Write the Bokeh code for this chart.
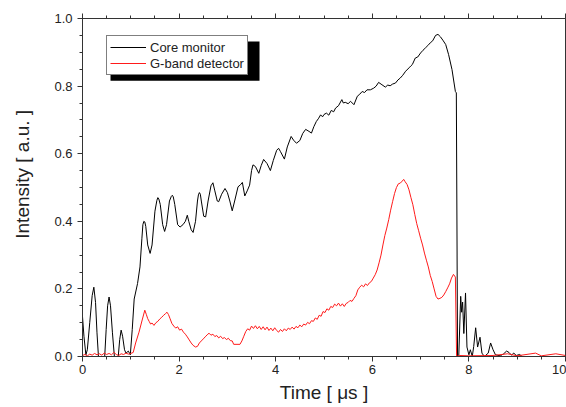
from bokeh.plotting import figure
from bokeh.models import (Range1d, LinearAxis, SingleIntervalTicker, PrintfTickFormatter,
                          Legend, LegendItem, BoxAnnotation)
from bokeh.embed import file_html
from bokeh.resources import INLINE

# ---- data ----
core_t = [0.00, 0.03, 0.07, 0.10, 0.15, 0.20, 0.235, 0.27, 0.30, 0.33, 0.46, 0.49, 0.52, 0.55, 0.58,
          0.62, 0.66, 0.74, 0.77, 0.80, 0.83, 0.87, 0.90, 0.95, 0.99, 1.03, 1.07, 1.14, 1.19, 1.23,
          1.25, 1.27, 1.29, 1.31, 1.35, 1.40, 1.44, 1.50, 1.54, 1.56, 1.58, 1.61, 1.66, 1.70, 1.74,
          1.80, 1.84, 1.86, 1.88, 1.91, 1.97,
          2.02, 2.08, 2.13, 2.17, 2.20, 2.25, 2.29, 2.34, 2.38, 2.40, 2.42, 2.44, 2.46, 2.51, 2.55, 2.60,
          2.66, 2.70, 2.74, 2.79, 2.82, 2.88, 2.95, 3.00, 3.05, 3.10, 3.15, 3.22, 3.27, 3.31, 3.36, 3.41,
          3.46, 3.50, 3.53, 3.58, 3.65, 3.70, 3.75, 3.82, 3.89, 3.95, 4.02, 4.06, 4.10, 4.18, 4.24,
          4.32, 4.37, 4.43, 4.50, 4.56, 4.62, 4.69, 4.74, 4.79, 4.84, 4.89, 4.93, 4.97, 5.00, 5.05, 5.10,
          5.15, 5.20, 5.24, 5.30, 5.37, 5.40, 5.44, 5.50, 5.55, 5.62, 5.69, 5.74, 5.79, 5.84, 5.89, 5.96,
          6.03, 6.08, 6.13, 6.20, 6.27, 6.32, 6.37, 6.42, 6.48, 6.53, 6.58, 6.63, 6.69, 6.76, 6.80, 6.83,
          6.89, 6.94, 7.00, 7.05, 7.10, 7.15, 7.20, 7.25, 7.31, 7.36, 7.41, 7.46, 7.52, 7.58,
          7.65, 7.72, 7.74, 7.765, 7.79, 7.83, 7.85, 7.87, 7.895, 7.93, 7.96, 8.00, 8.03, 8.07, 8.10,
          8.14, 8.18, 8.23, 8.27, 8.32, 8.40, 8.45, 8.50, 8.55, 8.65, 8.72, 8.78, 8.83, 8.88, 8.93,
          8.98, 9.05, 9.10, 10.0]
core_v = [0.118, 0.06, 0.005, 0.02, 0.10, 0.18, 0.205, 0.16, 0.07, 0.0, 0.0, 0.08, 0.15, 0.176, 0.15,
          0.07, 0.0, 0.0, 0.05, 0.078, 0.06, 0.02, 0.01, 0.016, 0.005, 0.08, 0.17, 0.216, 0.265, 0.35,
          0.39, 0.40, 0.398, 0.385, 0.33, 0.305, 0.33, 0.43, 0.462, 0.47, 0.466, 0.45, 0.39, 0.37, 0.39,
          0.46, 0.474, 0.477, 0.472, 0.45, 0.39,
          0.383, 0.39, 0.40, 0.418, 0.40, 0.375, 0.367, 0.40, 0.46, 0.478, 0.485, 0.48, 0.46, 0.415, 0.413, 0.46,
          0.505, 0.514, 0.49, 0.46, 0.458, 0.48, 0.497, 0.485, 0.46, 0.431, 0.46, 0.502, 0.508, 0.515, 0.475, 0.49,
          0.507, 0.55, 0.567, 0.562, 0.542, 0.565, 0.583, 0.571, 0.55, 0.58, 0.61, 0.616, 0.606, 0.584, 0.62,
          0.651, 0.64, 0.631, 0.639, 0.66, 0.672, 0.666, 0.661, 0.68, 0.695, 0.705, 0.715, 0.709, 0.716, 0.72, 0.714,
          0.728, 0.724, 0.735, 0.742, 0.760, 0.750, 0.752, 0.748, 0.755, 0.745, 0.770, 0.776, 0.784, 0.781, 0.789, 0.789,
          0.794, 0.800, 0.811, 0.804, 0.797, 0.803, 0.801, 0.806, 0.809, 0.818, 0.824, 0.832, 0.844, 0.854, 0.860, 0.864,
          0.883, 0.886, 0.898, 0.906, 0.913, 0.920, 0.928, 0.934, 0.950, 0.953, 0.946, 0.936, 0.923, 0.893,
          0.849, 0.784, 0.78, 0.0, 0.0, 0.178, 0.131, 0.161, 0.068, 0.188, 0.028, 0.005, 0.02, 0.0, 0.03,
          0.085, 0.028, 0.057, 0.01, 0.0, 0.01, 0.04, 0.02, 0.005, 0.002, 0.008, 0.016, 0.012, 0.004, 0.01,
          0.003, 0.006, 0.0, 0.0]

gband_t = [0.0, 0.05, 0.1, 0.15, 0.2, 0.25, 0.3, 0.35, 0.4, 0.45, 0.5, 0.55, 0.6, 0.65, 0.7, 0.75, 0.8,
           0.85, 0.9, 0.95, 1.0, 1.05, 1.10, 1.17, 1.23,
           1.29, 1.32, 1.35, 1.38, 1.41, 1.44, 1.48, 1.52, 1.56, 1.60, 1.64, 1.68, 1.72, 1.75, 1.78, 1.81,
           1.85, 1.89, 1.93, 1.97, 2.01, 2.05, 2.09, 2.13, 2.17, 2.21, 2.25, 2.29,
           2.34, 2.38, 2.42, 2.46, 2.50, 2.54, 2.58, 2.62, 2.66, 2.70, 2.74, 2.78, 2.82, 2.86, 2.90, 2.94,
           2.98, 3.02, 3.06, 3.10, 3.13, 3.26, 3.30,
           3.34, 3.38, 3.42, 3.46, 3.50, 3.54, 3.58, 3.62, 3.66, 3.70, 3.74, 3.78, 3.82, 3.86, 3.90, 3.94,
           3.98, 4.02, 4.06, 4.10, 4.14, 4.18, 4.22, 4.26, 4.30, 4.34, 4.38, 4.42, 4.46, 4.50, 4.54, 4.58,
           4.62, 4.66, 4.70, 4.74, 4.78, 4.82, 4.86, 4.90, 4.94, 4.98, 5.02, 5.06, 5.10, 5.14, 5.18, 5.22,
           5.26, 5.30, 5.34, 5.38, 5.42, 5.46, 5.50, 5.54, 5.58, 5.62, 5.66, 5.70, 5.74, 5.78, 5.82, 5.86,
           5.90, 5.94, 5.98, 6.02, 6.06, 6.10, 6.14,
           6.18, 6.22, 6.26, 6.30, 6.34, 6.38, 6.42, 6.46, 6.50, 6.54, 6.58, 6.62, 6.65, 6.68, 6.72, 6.76,
           6.80, 6.84, 6.88, 6.92, 6.96, 7.00, 7.04, 7.08, 7.12, 7.16, 7.20, 7.24, 7.28, 7.32, 7.36, 7.40,
           7.44, 7.48, 7.52, 7.56, 7.60, 7.64, 7.68, 7.72, 7.745,
           7.80, 8.00, 8.50, 8.80, 9.00, 9.38, 9.50, 9.80, 10.0]
gband_v = [0.003, 0.006, 0.002, 0.007, 0.004, 0.009, 0.005, 0.008, 0.004, 0.010, 0.006, 0.009, 0.005,
           0.012, 0.006, 0.003, 0.008, 0.006, 0.010, 0.007, 0.009, 0.012, 0.04, 0.072, 0.105,
           0.137, 0.125, 0.112, 0.104, 0.096, 0.099, 0.092, 0.100, 0.104, 0.111, 0.116, 0.122, 0.127, 0.131,
           0.124, 0.113, 0.098, 0.090, 0.084, 0.088, 0.078, 0.081, 0.072, 0.066, 0.058, 0.049, 0.040, 0.033,
           0.028, 0.030, 0.040, 0.046, 0.052, 0.058, 0.064, 0.069, 0.063, 0.066, 0.059, 0.062, 0.055, 0.060,
           0.053, 0.056, 0.050, 0.054, 0.047, 0.046, 0.036, 0.036, 0.046,
           0.060, 0.074, 0.082, 0.078, 0.090, 0.083, 0.091, 0.082, 0.089, 0.080, 0.088, 0.079, 0.087, 0.077,
           0.084, 0.076, 0.085, 0.077, 0.072, 0.080, 0.074, 0.082, 0.076, 0.084, 0.080, 0.087, 0.081, 0.089,
           0.085, 0.093, 0.088, 0.096, 0.093, 0.101, 0.097, 0.106, 0.104, 0.114, 0.110, 0.122, 0.119, 0.133,
           0.130, 0.141, 0.137, 0.148, 0.145, 0.155, 0.150, 0.158, 0.149, 0.156, 0.148, 0.157, 0.160, 0.166,
           0.163, 0.172, 0.180, 0.197, 0.205, 0.211, 0.206, 0.215, 0.210, 0.218, 0.222, 0.232, 0.242, 0.256,
           0.277,
           0.300, 0.330, 0.358, 0.380, 0.405, 0.433, 0.458, 0.482, 0.500, 0.511, 0.513, 0.519, 0.524, 0.517,
           0.509, 0.493, 0.470, 0.449, 0.420, 0.393, 0.372, 0.350, 0.330, 0.306, 0.285, 0.265, 0.240, 0.222,
           0.200, 0.178, 0.170, 0.172, 0.175, 0.182, 0.192, 0.203, 0.215, 0.232, 0.243, 0.235, 0.0,
           0.003, 0.002, 0.003, 0.008, 0.002, 0.01, 0.002, 0.008, 0.003]

x_ticks_interval = 2
y_ticks_interval = 0.2
series_names = ["Core monitor", "G-band detector"]
x_title = "Time [ \u03bcs ]"
y_title = "Intensity [ a.u. ]"

FONT = "Liberation Sans"
TXT = "#222222"
AX = "#333333"

p = figure(width=566, height=407, output_backend="svg", toolbar_location=None,
           x_range=Range1d(0, 10), y_range=Range1d(0, 1.0),
           min_border_left=82, min_border_right=1, min_border_top=18, min_border_bottom=51)
p.xgrid.visible = False
p.ygrid.visible = False
p.outline_line_color = AX
p.outline_line_width = 1
p.background_fill_color = "white"
p.border_fill_color = "white"


def style_axis(ax, ticker, fmt):
    ax.ticker = ticker
    if fmt is not None:
        ax.formatter = fmt
    ax.axis_line_color = AX
    ax.major_tick_line_color = AX
    ax.minor_tick_line_color = AX
    ax.major_tick_out = 5
    ax.major_tick_in = 0
    ax.minor_tick_out = 3
    ax.minor_tick_in = 0
    ax.major_label_text_font = FONT
    ax.major_label_text_color = TXT
    ax.major_label_text_font_size = "13px"
    ax.axis_label_text_font = FONT
    ax.axis_label_text_font_size = "19px"
    ax.axis_label_text_font_style = "normal"
    ax.axis_label_text_color = TXT


xax = p.xaxis[0]
style_axis(xax, SingleIntervalTicker(interval=x_ticks_interval, num_minor_ticks=4),
           PrintfTickFormatter(format="%d"))
xax.major_label_standoff = 3
xax.axis_label = x_title
xax.axis_label_standoff = 5

yax = p.yaxis[0]
style_axis(yax, SingleIntervalTicker(interval=y_ticks_interval, num_minor_ticks=4),
           PrintfTickFormatter(format="%.1f"))
yax.major_label_standoff = 5
yax.axis_label = "\u00a0" * 5 + y_title
yax.axis_label_standoff = 18

top = LinearAxis()
style_axis(top, SingleIntervalTicker(interval=x_ticks_interval, num_minor_ticks=4), None)
top.major_label_overrides = {0: "", 2: "", 4: "", 6: "", 8: "", 10: ""}
top.major_label_text_font_size = "8px"
top.major_label_standoff = 0
p.add_layout(top, "above")

r_core = p.line(core_t, core_v, line_color="black", line_width=1)
r_gband = p.line(gband_t, gband_v, line_color="#ff1a1a", line_width=1)

# legend shadow
shadow = BoxAnnotation(left=0.58, right=3.665, top=0.932, bottom=0.816,
                       fill_color="black", fill_alpha=1, line_color=None)
p.add_layout(shadow)

legend = Legend(items=[LegendItem(label=series_names[0], renderers=[r_core]),
                       LegendItem(label=series_names[1], renderers=[r_gband])],
                location=(24, 281), padding=3, spacing=0, glyph_width=36, glyph_height=16,
                label_height=16, label_standoff=4, margin=0,
                label_text_font=FONT, label_text_font_size="13px", label_text_color=TXT,
                border_line_color="black", border_line_width=1,
                background_fill_color="white", background_fill_alpha=1)
p.add_layout(legend, "center")

open("out.html", "w").write(file_html(p, INLINE))
